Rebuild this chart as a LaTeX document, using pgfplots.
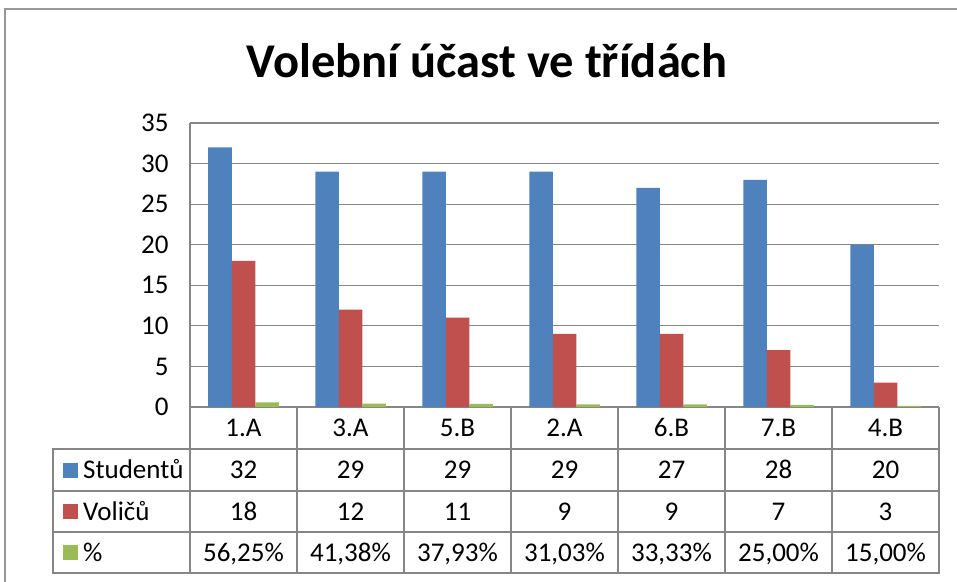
\documentclass[border=0pt]{standalone}
\usepackage{pgfplots}
\pgfplotsset{compat=1.18}
\usepackage{fontspec}
\setmainfont{Carlito}
\definecolor{cblue}{HTML}{4F81BD}
\definecolor{cred}{HTML}{C0504D}
\definecolor{cgreen}{HTML}{9BBB59}
\definecolor{cgrid}{HTML}{868686}
\begin{document}
\begin{tikzpicture}[x=1pt,y=1pt]
\useasboundingbox (-190,-174) rectangle (767,407);
\draw[cgrid!85, line width=1.5] (-185,-200) -- (-185,398) -- (800,398);
\node[font=\fontsize{48.5}{58}\selectfont\bfseries, anchor=base, inner sep=0] at (297,329) {Volební účast ve třídách};
\begin{axis}[at={(0,0)}, anchor=south west, scale only axis,
  width=749pt, height=284pt,
  ymin=0, ymax=35, xmin=-0.5, xmax=6.5,
  ytick={0,5,...,35}, xtick={0,...,6},
  xticklabels={1.A,3.A,5.B,2.A,6.B,7.B,4.B},
  ybar=0pt, bar width=23.5pt,
  axis x line*=bottom, axis y line*=left,
  axis line style={cgrid, line width=1.2pt},
  ymajorgrids, grid style={cgrid, line width=1.2pt},
  major tick length=0pt,
  tick label style={font=\fontsize{27}{31}\selectfont},
  /pgf/number format/assume math mode=true,
  yticklabel style={xshift=-18pt},
  xticklabel style={anchor=base, yshift=-29.5pt},
  clip=false]
\addplot[fill=cblue, draw=none] coordinates {(0,32)(1,29)(2,29)(3,29)(4,27)(5,28)(6,20)};
\addplot[fill=cred, draw=none] coordinates {(0,18)(1,12)(2,11)(3,9)(4,9)(5,7)(6,3)};
\addplot[fill=cgreen, draw=none] coordinates {(0,0.5625)(1,0.4138)(2,0.3793)(3,0.3103)(4,0.3333)(5,0.25)(6,0.15)};
\end{axis}
% data table
\begin{scope}[cgrid, line width=1.2]
\draw (-137,-42) rectangle (749,-166);
\draw (-137,-84) -- (749,-84);
\draw (-137,-125) -- (749,-125);
\foreach \k in {0,...,7} \draw (107*\k,0) -- (107*\k,-166);
\end{scope}
\begin{scope}[font=\fontsize{27}{31}\selectfont]
\foreach \v [count=\i from 0] in {32,29,29,29,27,28,20}
  \node[anchor=base, inner sep=0] at (53.5+107*\i,-71.5) {\v};
\foreach \v [count=\i from 0] in {18,12,11,9,9,7,3}
  \node[anchor=base, inner sep=0] at (53.5+107*\i,-113) {\v};
\foreach \v [count=\i from 0] in {{56,25\%},{41,38\%},{37,93\%},{31,03\%},{33,33\%},{25,00\%},{15,00\%}}
  \node[anchor=base, inner sep=0] at (53.5+107*\i,-154) {\v};
\fill[cblue] (-127,-70.5) rectangle (-112,-55.5);
\fill[cred] (-127,-112) rectangle (-112,-97);
\fill[cgreen] (-127,-153) rectangle (-112,-138);
\node[anchor=base west, inner sep=0] at (-107,-71.5) {Studentů};
\node[anchor=base west, inner sep=0] at (-107,-113) {Voličů};
\node[anchor=base west, inner sep=0] at (-107,-154) {\%};
\end{scope}
\end{tikzpicture}
\end{document}
